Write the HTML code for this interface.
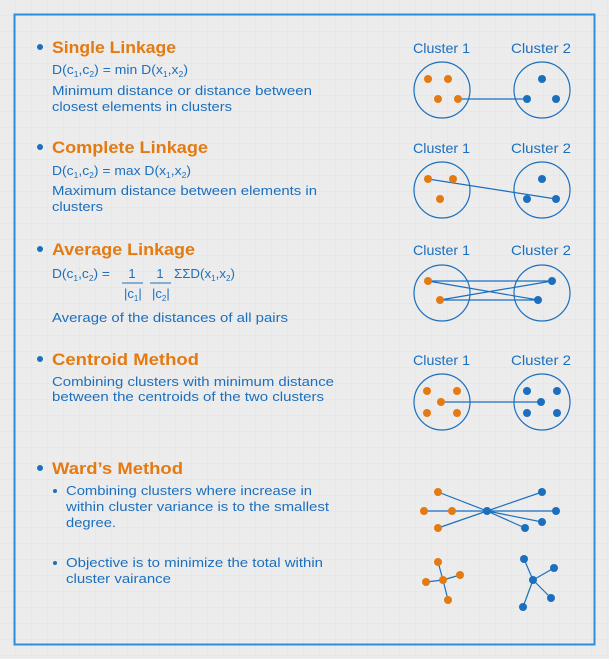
<!DOCTYPE html>
<html><head><meta charset="utf-8"><style>
html,body{margin:0;padding:0;background:#ececec;}
svg{display:block;font-family:"Liberation Sans",sans-serif;}
.h{fill:#e37a12;font-weight:bold;font-size:17px;}
.t{fill:#1c6fbe;font-size:13px;}
.c{fill:#1c6fbe;font-size:14px;}
</style></head><body>
<svg width="609" height="659" viewBox="0 0 609 659" xmlns="http://www.w3.org/2000/svg">
<defs><pattern id="g" width="16" height="16" patternUnits="userSpaceOnUse"><path d="M16 0V16H0" fill="none" stroke="#dcdfe3" stroke-width="0.7"/></pattern></defs>
<rect width="609" height="659" fill="#ececec"/>
<rect width="609" height="659" fill="url(#g)"/>
<rect x="14.5" y="14.5" width="580" height="630" fill="none" stroke="#2a8fdc" stroke-width="2"/>
<g fill="#1c6fbe">
<circle cx="40" cy="47" r="3"/><circle cx="40" cy="147" r="3"/><circle cx="40" cy="249" r="3"/><circle cx="40" cy="359" r="3"/><circle cx="40" cy="468" r="3"/>
<circle cx="55" cy="491" r="2"/><circle cx="55" cy="563" r="2"/>
</g>
<g lengthAdjust="spacingAndGlyphs">
<text class="h" x="52" y="53" textLength="124" lengthAdjust="spacingAndGlyphs">Single Linkage</text>
<text class="t" x="52" y="74" textLength="136" lengthAdjust="spacingAndGlyphs">D(c<tspan font-size="8" dy="3">1</tspan><tspan dy="-3">,c</tspan><tspan font-size="8" dy="3">2</tspan><tspan dy="-3">) = min D(x</tspan><tspan font-size="8" dy="3">1</tspan><tspan dy="-3">,x</tspan><tspan font-size="8" dy="3">2</tspan><tspan dy="-3">)</tspan></text>
<text class="t" x="52" y="95" textLength="260" lengthAdjust="spacingAndGlyphs">Minimum distance or distance between</text>
<text class="t" x="52" y="111" textLength="180" lengthAdjust="spacingAndGlyphs">closest elements in clusters</text>

<text class="h" x="52" y="153" textLength="156" lengthAdjust="spacingAndGlyphs">Complete Linkage</text>
<text class="t" x="52" y="175" textLength="139" lengthAdjust="spacingAndGlyphs">D(c<tspan font-size="8" dy="3">1</tspan><tspan dy="-3">,c</tspan><tspan font-size="8" dy="3">2</tspan><tspan dy="-3">) = max D(x</tspan><tspan font-size="8" dy="3">1</tspan><tspan dy="-3">,x</tspan><tspan font-size="8" dy="3">2</tspan><tspan dy="-3">)</tspan></text>
<text class="t" x="52" y="195" textLength="265" lengthAdjust="spacingAndGlyphs">Maximum distance between elements in</text>
<text class="t" x="52" y="211" textLength="51" lengthAdjust="spacingAndGlyphs">clusters</text>

<text class="h" x="52" y="255" textLength="143" lengthAdjust="spacingAndGlyphs">Average Linkage</text>
<text class="t" x="52" y="278" textLength="58" lengthAdjust="spacingAndGlyphs">D(c<tspan font-size="8" dy="3">1</tspan><tspan dy="-3">,c</tspan><tspan font-size="8" dy="3">2</tspan><tspan dy="-3">) =</tspan></text>
<text class="t" x="132" y="278" text-anchor="middle">1</text>
<text class="t" x="160" y="278" text-anchor="middle">1</text>
<line x1="122" y1="283" x2="143" y2="283" stroke="#1c6fbe"/>
<line x1="150" y1="283" x2="171" y2="283" stroke="#1c6fbe"/>
<text class="t" x="124" y="298">|c<tspan font-size="8" dy="3">1</tspan><tspan dy="-3">|</tspan></text>
<text class="t" x="152" y="298">|c<tspan font-size="8" dy="3">2</tspan><tspan dy="-3">|</tspan></text>
<text class="t" x="174" y="278" textLength="61" lengthAdjust="spacingAndGlyphs">ΣΣD(x<tspan font-size="8" dy="3">1</tspan><tspan dy="-3">,x</tspan><tspan font-size="8" dy="3">2</tspan><tspan dy="-3">)</tspan></text>
<text class="t" x="52" y="322" textLength="236" lengthAdjust="spacingAndGlyphs">Average of the distances of all pairs</text>

<text class="h" x="52" y="365" textLength="147" lengthAdjust="spacingAndGlyphs">Centroid Method</text>
<text class="t" x="52" y="386" textLength="282" lengthAdjust="spacingAndGlyphs">Combining clusters with minimum distance</text>
<text class="t" x="52" y="401" textLength="272" lengthAdjust="spacingAndGlyphs">between the centroids of the two clusters</text>

<text class="h" x="52" y="474" textLength="131" lengthAdjust="spacingAndGlyphs">Ward’s Method</text>
<text class="t" x="66" y="495" textLength="246" lengthAdjust="spacingAndGlyphs">Combining clusters where increase in</text>
<text class="t" x="66" y="511" textLength="263" lengthAdjust="spacingAndGlyphs">within cluster variance is to the smallest</text>
<text class="t" x="66" y="527" textLength="50" lengthAdjust="spacingAndGlyphs">degree.</text>
<text class="t" x="66" y="567" textLength="257" lengthAdjust="spacingAndGlyphs">Objective is to minimize the total within</text>
<text class="t" x="66" y="583" textLength="105" lengthAdjust="spacingAndGlyphs">cluster vairance</text>

<text class="c" x="413" y="53" textLength="57" lengthAdjust="spacingAndGlyphs">Cluster 1</text><text class="c" x="511" y="53" textLength="60" lengthAdjust="spacingAndGlyphs">Cluster 2</text>
<text class="c" x="413" y="153" textLength="57" lengthAdjust="spacingAndGlyphs">Cluster 1</text><text class="c" x="511" y="153" textLength="60" lengthAdjust="spacingAndGlyphs">Cluster 2</text>
<text class="c" x="413" y="255" textLength="57" lengthAdjust="spacingAndGlyphs">Cluster 1</text><text class="c" x="511" y="255" textLength="60" lengthAdjust="spacingAndGlyphs">Cluster 2</text>
<text class="c" x="413" y="365" textLength="57" lengthAdjust="spacingAndGlyphs">Cluster 1</text><text class="c" x="511" y="365" textLength="60" lengthAdjust="spacingAndGlyphs">Cluster 2</text>
</g>
<g fill="none" stroke="#1c6fbe" stroke-width="1.2">
<circle cx="442" cy="90" r="28"/><circle cx="542" cy="90" r="28"/>
<circle cx="442" cy="190" r="28"/><circle cx="542" cy="190" r="28"/>
<circle cx="442" cy="293" r="28"/><circle cx="542" cy="293" r="28"/>
<circle cx="442" cy="402" r="28"/><circle cx="542" cy="402" r="28"/>
<line x1="458" y1="99" x2="527" y2="99"/>
<line x1="428" y1="179" x2="556" y2="199"/>
<path d="M428 281H552M428 281L538 300M440 300L552 281M440 300H538"/>
<line x1="441" y1="402" x2="541" y2="402"/>
<path d="M487 511L438 492M424 511H556M487 511L438 528M487 511L542 492M487 511L542 522M487 511L525 528"/>
<path d="M443 580L438 562M443 580L426 582M443 580L460 575M443 580L448 600"/>
<path d="M533 580L524 559M533 580L554 568M533 580L551 598M533 580L523 607"/>
</g>
<g fill="#e37a12">
<circle cx="428" cy="79" r="4"/><circle cx="448" cy="79" r="4"/><circle cx="438" cy="99" r="4"/><circle cx="458" cy="99" r="4"/>
<circle cx="428" cy="179" r="4"/><circle cx="453" cy="179" r="4"/><circle cx="440" cy="199" r="4"/>
<circle cx="428" cy="281" r="4"/><circle cx="440" cy="300" r="4"/>
<circle cx="427" cy="391" r="4"/><circle cx="457" cy="391" r="4"/><circle cx="441" cy="402" r="4"/><circle cx="427" cy="413" r="4"/><circle cx="457" cy="413" r="4"/>
<circle cx="438" cy="492" r="4"/><circle cx="424" cy="511" r="4"/><circle cx="452" cy="511" r="4"/><circle cx="438" cy="528" r="4"/>
<circle cx="443" cy="580" r="4"/><circle cx="438" cy="562" r="4"/><circle cx="426" cy="582" r="4"/><circle cx="460" cy="575" r="4"/><circle cx="448" cy="600" r="4"/>
</g>
<g fill="#1c6fbe">
<circle cx="542" cy="79" r="4"/><circle cx="527" cy="99" r="4"/><circle cx="556" cy="99" r="4"/>
<circle cx="542" cy="179" r="4"/><circle cx="527" cy="199" r="4"/><circle cx="556" cy="199" r="4"/>
<circle cx="552" cy="281" r="4"/><circle cx="538" cy="300" r="4"/>
<circle cx="527" cy="391" r="4"/><circle cx="557" cy="391" r="4"/><circle cx="541" cy="402" r="4"/><circle cx="527" cy="413" r="4"/><circle cx="557" cy="413" r="4"/>
<circle cx="487" cy="511" r="4"/><circle cx="542" cy="492" r="4"/><circle cx="556" cy="511" r="4"/><circle cx="542" cy="522" r="4"/><circle cx="525" cy="528" r="4"/>
<circle cx="533" cy="580" r="4"/><circle cx="524" cy="559" r="4"/><circle cx="554" cy="568" r="4"/><circle cx="551" cy="598" r="4"/><circle cx="523" cy="607" r="4"/>
</g>
</svg>
</body></html>
